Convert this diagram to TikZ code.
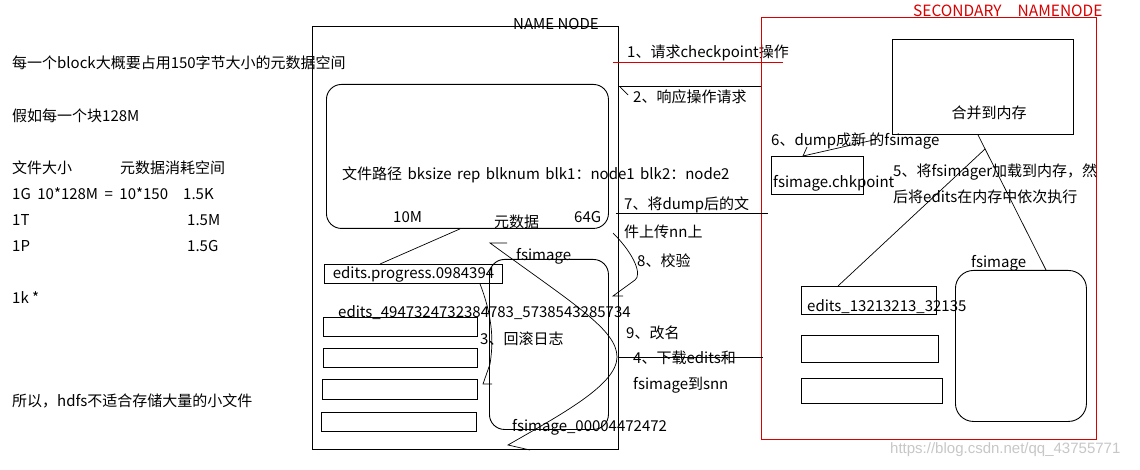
\documentclass[tikz,border=0pt]{standalone}
\usepackage{fontspec}
\newfontfamily\cjk{Noto Sans CJK SC}
\newfontfamily\wmfont{Liberation Sans}
\begin{document}
\begin{tikzpicture}[x=1pt,y=-1pt,
  txt/.style={font=\cjk\fontsize{15}{18}\selectfont, inner sep=0pt, anchor=west},
  box/.style={draw, line width=0.9pt, anchor=north west, inner sep=0pt},
  rbox/.style={box, rounded corners=15pt},
  conn/.style={line width=0.7pt},
]
\useasboundingbox (0,0) rectangle (1140,470);
\fill[white] (0,0) rectangle (1140,470);

% left text
\node[txt] (l1) at (12,63) {每一个block大概要占用150字节大小的元数据空间};
\node[txt] (l2) at (12,116) {假如每一个块128M};
\node[txt] (l3) at (12,168) {文件大小};
\node[txt] (l3b) at (120,168) {元数据消耗空间};
\node[txt] (l4) at (12,194) {\spaceskip=6.5pt\relax 1G 10*128M = 10*150};
\node[txt] (l4b) at (183,194) {1.5K};
\node[txt] (l5) at (12,220) {1T};
\node[txt] (l5b) at (187,220) {1.5M};
\node[txt] (l6) at (12,246) {1P};
\node[txt] (l6b) at (187,246) {1.5G};
\node[txt] (l7) at (12,298) {1k *};
\node[txt] (l8) at (12,401) {所以，hdfs不适合存储大量的小文件};

% NAME NODE
\node[box, minimum width=306, minimum height=423] (nn) at (312,26) {};
\node[txt] (nnlab) at (513,24) {NAME NODE};
\node[rbox, minimum width=282, minimum height=144] (meta) at (326,84) {};
\node[txt] (metat) at (342,175) {\spaceskip=5.5pt\relax 文件路径 bksize rep blknum blk1：node1 blk2：node2};
\node[txt] (m10) at (393,217) {10M};
\node[txt] (myuan) at (494,222) {元数据};
\node[txt] (m64) at (574,217) {64G};
\node[box, minimum width=178, minimum height=19, font=\cjk\fontsize{15}{18}\selectfont] (edprog) at (324,264) {edits.progress.0984394};
\node[rbox, minimum width=119, minimum height=170] (nfs) at (489,259) {};
\node[txt] (nfslab) at (516,256) {fsimage};
\node[box, minimum width=154, minimum height=19] (ne1) at (323,317) {};
\node[box, minimum width=154, minimum height=19] (ne2) at (323,348) {};
\node[box, minimum width=155, minimum height=20] (ne3) at (322,379) {};
\node[box, minimum width=155, minimum height=19] (ne4) at (321,412) {};
\node[txt] (edlong) at (338,313) {edits\_4947324732384783\_5738543285734};
\node[txt] (roll) at (480,339) {3、回滚日志};
\node[txt] (fsold) at (512,427) {fsimage\_00004472472};

% middle labels
\node[txt] (s1) at (627,53) {1、请求checkpoint操作};
\node[txt] (s2) at (633,97) {2、响应操作请求};
\node[txt] (s7a) at (624,205) {7、将dump后的文};
\node[txt] (s7b) at (624,232) {件上传nn上};
\node[txt] (s8) at (637,261) {8、校验};
\node[txt] (s9) at (626,333) {9、改名};
\node[txt] (s4a) at (633,358) {4、下载edits和};
\node[txt] (s4b) at (633,385) {fsimage到snn};

% SECONDARY NAMENODE
\node[box, draw=red!85!black, minimum width=335, minimum height=422] (snn) at (761,17) {};
\node[txt, text=red!85!black, font=\cjk\fontsize{15.5}{18}\selectfont] (snnlab) at (913,11) {SECONDARY\hspace*{16pt}NAMENODE};
\node[box, minimum width=181, minimum height=95] (merge) at (892,39) {};
\node[txt, anchor=center] (merget) at (989,113) {合并到内存};
\node[txt] (s6) at (771,141) {6、dump成新 的fsimage};
\node[box, minimum width=92, minimum height=38] (chk) at (771,156) {};
\node[txt] (chkt) at (773,183) {fsimage.chkpoint};
\node[txt] (s5a) at (893,172) {5、将fsimager加载到内存，然};
\node[txt] (s5b) at (893,197) {后将edits在内存中依次执行};
\node[box, minimum width=135, minimum height=28] (se1) at (801,286) {};
\node[box, minimum width=137, minimum height=27] (se2) at (801,335) {};
\node[box, minimum width=141, minimum height=25] (se3) at (801,378) {};
\node[txt] (se1t) at (807,307) {edits\_13213213\_32135};
\node[box, rounded corners=18pt, minimum width=131, minimum height=151] (sfs) at (955,270) {};
\node[txt] (sfslab) at (971,263) {fsimage};

\node[font=\wmfont\fontsize{15}{17}\selectfont, text=black!22, inner sep=0pt, anchor=west] (wm) at (890,450) {https://blog.csdn.net/qq\_43755771};

% connectors
\draw[conn, red!85!black] (nn.east |- 0,62) ++(-6,0) -- (783,62);
\draw[conn] (nn.east |- 0,86) -- (snn.west |- 0,86);
\draw[conn] (620,87) -- (628,95);
\draw[conn] (nn.east |- 0,213) ++(-3,0) -- (768,213);
\draw[conn] (nn.east |- 0,357) -- (763,357);

\draw[conn] (meta.south -| 460,0) -- (edprog.north -| 380,0);
\draw[conn] (edprog.south -| 480,0) .. controls (494,320) and (493,345) .. (490,364) -- (483,384) -- (492,384);
\draw[conn] (507,243) -- (490,243) .. controls (575,305) and (617,330) .. (617,357) .. controls (617,385) and (560,415) .. (508,445) -- (530,450);
\draw[conn] (613,233) .. controls (635,255) and (642,275) .. (635,280) -- (613,296) -- (623,296);

\draw[conn] (chk.north -| 803,0) -- (878,139);
\draw[conn] (chk.north -| 803,0) -- (807,147);
\draw[conn] (merge.south -| 978,0) -- (sfs.north -| 1046,0);
\draw[conn] (985,149) -- (se1.north -| 838,0);
\end{tikzpicture}
\end{document}
